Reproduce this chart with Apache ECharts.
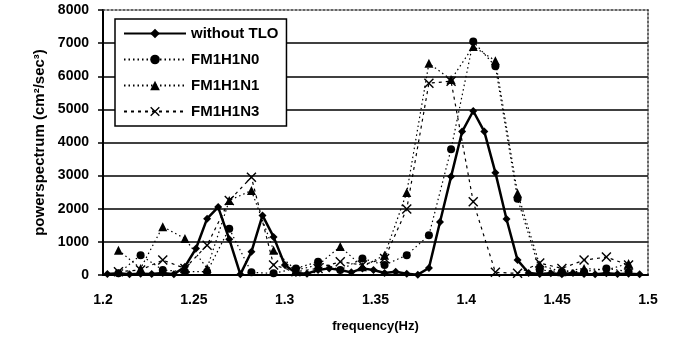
<!DOCTYPE html>
<html>
<head>
<meta charset="utf-8">
<script src="https://cdn.jsdelivr.net/npm/echarts@6/dist/echarts.min.js"></script>
<style>
  html, body { margin: 0; padding: 0; background: #fff; }
  #chart { width: 678px; height: 358px; }
</style>
</head>
<body>
<div id="chart"></div>
<script>
// Frequency grid of the reference (without TLO) spectrum, Hz
const freqFine = [
  1.2024, 1.2085, 1.2146, 1.2207, 1.2268, 1.2329, 1.2390, 1.2451, 1.2512, 1.2573,
  1.2634, 1.2695, 1.2756, 1.2817, 1.2878, 1.2939, 1.3001, 1.3062, 1.3123, 1.3184,
  1.3245, 1.3306, 1.3367, 1.3428, 1.3489, 1.3550, 1.3611, 1.3672, 1.3733, 1.3794,
  1.3855, 1.3916, 1.3977, 1.4038, 1.4099, 1.4160, 1.4221, 1.4282, 1.4343, 1.4404,
  1.4465, 1.4526, 1.4587, 1.4648, 1.4709, 1.4771, 1.4832, 1.4893, 1.4954
];
const withoutTLO = [
  30, 50, 20, 40, 30, 60, 20, 250, 800, 1700,
  2050, 1080, 20, 700, 1800, 1150, 300, 60, 40, 150,
  200, 150, 80, 200, 150, 60, 100, 40, 10, 210,
  1600, 2970, 4330, 4950, 4330, 3090, 1690, 450, 60, 30,
  50, 20, 60, 30, 20, 50, 30, 40, 20
];

// Coarser frequency grid of the FM model spectra, Hz
const freqCoarse = [
  1.2085, 1.2207, 1.2329, 1.2451, 1.2573, 1.2695, 1.2817, 1.2939, 1.3062, 1.3184,
  1.3306, 1.3428, 1.3550, 1.3672, 1.3794, 1.3916, 1.4038, 1.4160, 1.4282, 1.4404,
  1.4526, 1.4648, 1.4771, 1.4893
];
const fm1h1n0 = [
  50, 600, 150, 100, 100, 1400, 80, 50, 200, 400,
  150, 500, 300, 600, 1200, 3800, 7050, 6300, 2300, 150,
  100, 100, 200, 100
];
const fm1h1n1 = [
  750, 200, 1460, 1100, 200, 2250, 2550, 750, 150, 300,
  860, 250, 600, 2490, 6390, 5900, 6900, 6470, 2470, 300,
  100, 200, 150, 350
];
const fm1h1n3 = [
  100, 150, 450, 200, 900, 2250, 2950, 300, 100, 200,
  400, 300, 500, 1990, 5790, 5850, 2210, 80, 50, 360,
  200, 450, 540, 300
];

const xTickLabels = ['1.2', '1.25', '1.3', '1.35', '1.4', '1.45', '1.5'];
const yTickLabels = ['0', '1000', '2000', '3000', '4000', '5000', '6000', '7000', '8000'];

const pairUp = (xs, ys) => xs.map((x, i) => [x, ys[i]]);
const FONT = "'Liberation Sans', Arial, sans-serif";
const crossSymbol = 'path://M0,1L1,0L5,4L9,0L10,1L6,5L10,9L9,10L5,6L1,10L0,9L4,5Z';

const chart = echarts.init(document.getElementById('chart'), null, { renderer: 'canvas' });

chart.setOption({
  animation: false,
  backgroundColor: '#ffffff',
  textStyle: { fontFamily: FONT, color: '#000' },
  grid: { left: 103, right: 30, top: 10, bottom: 83, containLabel: false },
  legend: {
    orient: 'vertical',
    left: 115,
    top: 19,
    padding: [7, 8, 7, 8],
    itemGap: 11,
    itemWidth: 62,
    itemHeight: 12,
    backgroundColor: '#fff',
    borderColor: '#000',
    borderWidth: 1.5,
    textStyle: { fontFamily: FONT, fontSize: 15, fontWeight: 'bold', color: '#000' },
    data: ['without TLO', 'FM1H1N0', 'FM1H1N1', 'FM1H1N3']
  },
  xAxis: [
    {
      type: 'value',
      min: 1.2,
      max: 1.5,
      interval: 0.05,
      name: 'frequency(Hz)',
      nameLocation: 'middle',
      nameGap: 45,
      nameTextStyle: { fontFamily: FONT, fontSize: 13, fontWeight: 'bold', color: '#000' },
      axisLine: { lineStyle: { color: '#000', width: 2 } },
      axisTick: { show: false },
      splitLine: { show: false },
      axisLabel: {
        margin: 18,
        fontFamily: FONT, fontSize: 14, fontWeight: 'bold', color: '#000',
        formatter: v => xTickLabels[Math.round((v - 1.2) / 0.05)]
      }
    },
    {
      type: 'value',
      position: 'top',
      min: 1.2,
      max: 1.5,
      axisLine: { show: true, onZero: false, lineStyle: { color: '#333', width: 1.5, type: [2, 2] } },
      axisTick: { show: false },
      axisLabel: { show: false },
      splitLine: { show: false }
    }
  ],
  yAxis: [
    {
      type: 'value',
      min: 0,
      max: 8000,
      interval: 1000,
      name: 'powerspectrum (cm²/sec³)',
      nameLocation: 'middle',
      nameGap: 53,
      nameTextStyle: { fontFamily: FONT, fontSize: 15, fontWeight: 'bold', color: '#000' },
      axisLine: { show: true, lineStyle: { color: '#000', width: 2 } },
      axisTick: { show: true, length: 5, lineStyle: { color: '#000', width: 1.5 } },
      splitLine: { show: true, showMaxLine: false, lineStyle: { color: '#000', width: 1.5 } },
      axisLabel: {
        margin: 14,
        fontFamily: FONT, fontSize: 14, fontWeight: 'bold', color: '#000',
        formatter: v => yTickLabels[Math.round(v / 1000)]
      }
    },
    {
      type: 'value',
      position: 'right',
      min: 0,
      max: 8000,
      axisLine: { show: true, onZero: false, lineStyle: { color: '#333', width: 1.5, type: [2, 2] } },
      axisTick: { show: false },
      axisLabel: { show: false },
      splitLine: { show: false }
    }
  ],
  series: [
    {
      name: 'FM1H1N0',
      type: 'line',
      data: pairUp(freqCoarse, fm1h1n0),
      symbol: 'circle',
      symbolSize: 8,
      itemStyle: { color: '#000' },
      lineStyle: { color: '#000', width: 1.2, type: [1.5, 3] },
      z: 3
    },
    {
      name: 'FM1H1N1',
      type: 'line',
      data: pairUp(freqCoarse, fm1h1n1),
      symbol: 'triangle',
      symbolSize: 9,
      itemStyle: { color: '#000' },
      lineStyle: { color: '#000', width: 1.2, type: [1.5, 3] },
      z: 3
    },
    {
      name: 'FM1H1N3',
      type: 'line',
      data: pairUp(freqCoarse, fm1h1n3),
      symbol: crossSymbol,
      symbolSize: 10,
      itemStyle: { color: '#000' },
      lineStyle: { color: '#000', width: 1.2, type: [3, 4] },
      z: 3
    },
    {
      name: 'without TLO',
      type: 'line',
      data: pairUp(freqFine, withoutTLO),
      symbol: 'diamond',
      symbolSize: 8,
      itemStyle: { color: '#000' },
      lineStyle: { color: '#000', width: 2.5 },
      z: 4
    }
  ]
});
</script>
</body>
</html>
